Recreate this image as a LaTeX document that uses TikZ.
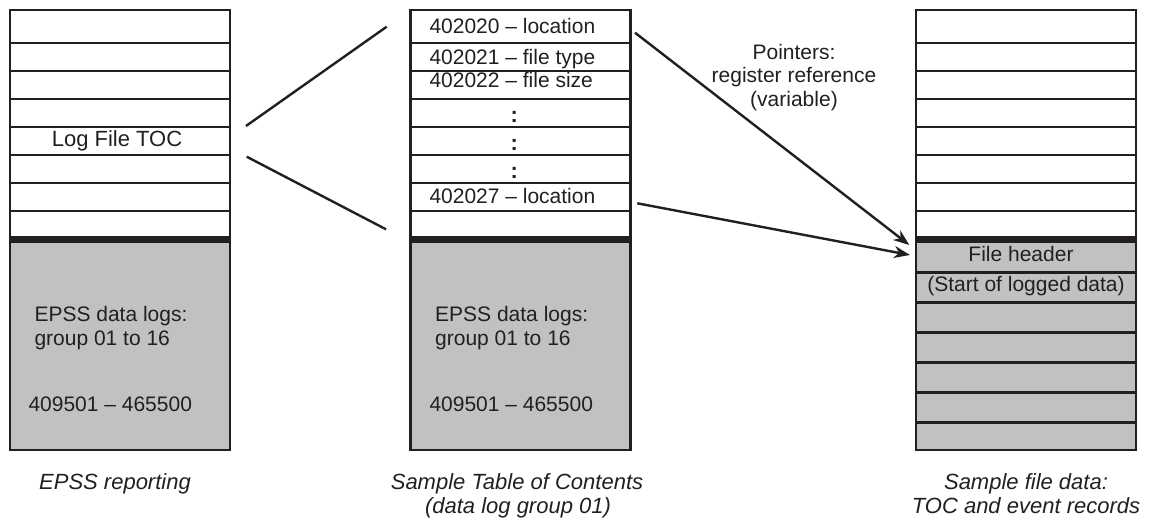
\documentclass[tikz,border=0pt]{standalone}
\usepackage{fontspec}
\setmainfont{Liberation Sans}
\usetikzlibrary{arrows.meta}
\definecolor{ink}{RGB}{35,31,32}
\definecolor{logfill}{RGB}{193,193,193}
\begin{document}
\begin{tikzpicture}[x=1pt,y=-1pt,
  rowline/.style={ink, line width=2.2pt},
  border/.style={ink, line width=2.5pt},
  bar/.style={ink, line width=7pt},
  txt/.style={inner sep=0pt, font=\fontsize{21}{24}\selectfont, text=ink},
  dots/.style={inner sep=0pt, font=\fontsize{22}{24}\selectfont\bfseries, text=ink, anchor=base},
  captxt/.style={inner sep=0pt, font=\fontsize{22}{24}\selectfont\itshape, text=ink, anchor=base},
  link/.style={ink, line width=2.4pt},
  ptr/.style={ink, line width=2.4pt, -{Stealth[length=16pt,width=12pt,inset=5pt]}}
]
\useasboundingbox (0,0) rectangle (1153,525);

% columns
\foreach \xl in {10,410.7,916} {
  \fill[logfill] (\xl,239.5) rectangle ++(220,210.5);
  \foreach \yy in {43,71,99,127,155,183,211}
    \draw[rowline] (\xl,\yy) -- ++(220,0);
  \draw[bar] (\xl,239.5) -- ++(220,0);
}
\foreach \yy in {272.5,302.5,332.5,362.5,392.5,422.5}
  \draw[rowline] (916,\yy) -- ++(220,0);
\foreach \xl in {10,410.7,916}
  \draw[border] (\xl,10) rectangle ++(220,440);

% left column texts
\node[txt, anchor=base, font=\fontsize{22}{24}\selectfont] (toc) at (117,146.7) {Log File TOC};
\node[txt, anchor=base west] (la1) at (34.3,321.7) {EPSS data logs:};
\node[txt, anchor=base west] (la2) at (34.3,345.7) {group 01 to 16};
\node[txt, anchor=base west] (la3) at (28.3,411.7) {409501 – 465500};

% middle column texts
\node[txt, anchor=base west] (m1) at (429.3,33.3) {402020 – location};
\node[txt, anchor=base west] (m2) at (429.3,64) {402021 – file type};
\node[txt, anchor=base west] (m3) at (429.3,87.3) {402022 – file size};
\node[dots] (d1) at (514.3,122.3) {:};
\node[dots] (d2) at (514.3,150.3) {:};
\node[dots] (d3) at (514.3,178.3) {:};
\node[txt, anchor=base west] (m8) at (429.3,203.3) {402027 – location};
\node[txt, anchor=base west] (ma1) at (435,321.7) {EPSS data logs:};
\node[txt, anchor=base west] (ma2) at (435,345.7) {group 01 to 16};
\node[txt, anchor=base west] (ma3) at (429.3,411.7) {409501 – 465500};

% right column texts
\node[txt, anchor=base] (fh) at (1021,261.5) {File header};
\node[txt, anchor=base] (sd) at (1026,291.7) {(Start of logged data)};

% pointer label
\node[txt, anchor=base] (pl1) at (794,59) {Pointers:};
\node[txt, anchor=base] (pl2) at (794,82.5) {register reference};
\node[txt, anchor=base] (pl3) at (794,106.5) {(variable)};

% captions
\node[captxt] (c1) at (115,489) {EPSS reporting};
\node[captxt] (c2a) at (517,489) {Sample Table of Contents};
\node[captxt] (c2b) at (518,513) {(data log group 01)};
\node[captxt] (c3a) at (1026,489) {Sample file data:};
\node[captxt] (c3b) at (1026,513) {TOC and event records};

% connectors
\coordinate (za) at (246,126);
\coordinate (zb) at (386.7,26.7);
\coordinate (zc) at (246.7,156.7);
\coordinate (zd) at (386,229.3);
\draw[link] (za) -- (zb);
\draw[link] (zc) -- (zd);

\coordinate (p1s) at (635,32.7);
\coordinate (p1e) at (909.3,245);
\coordinate (p2s) at (637.3,203.3);
\coordinate (p2e) at (910,255);
\draw[ptr] (p1s) -- (p1e);
\draw[ptr] (p2s) -- (p2e);
\end{tikzpicture}
\end{document}
